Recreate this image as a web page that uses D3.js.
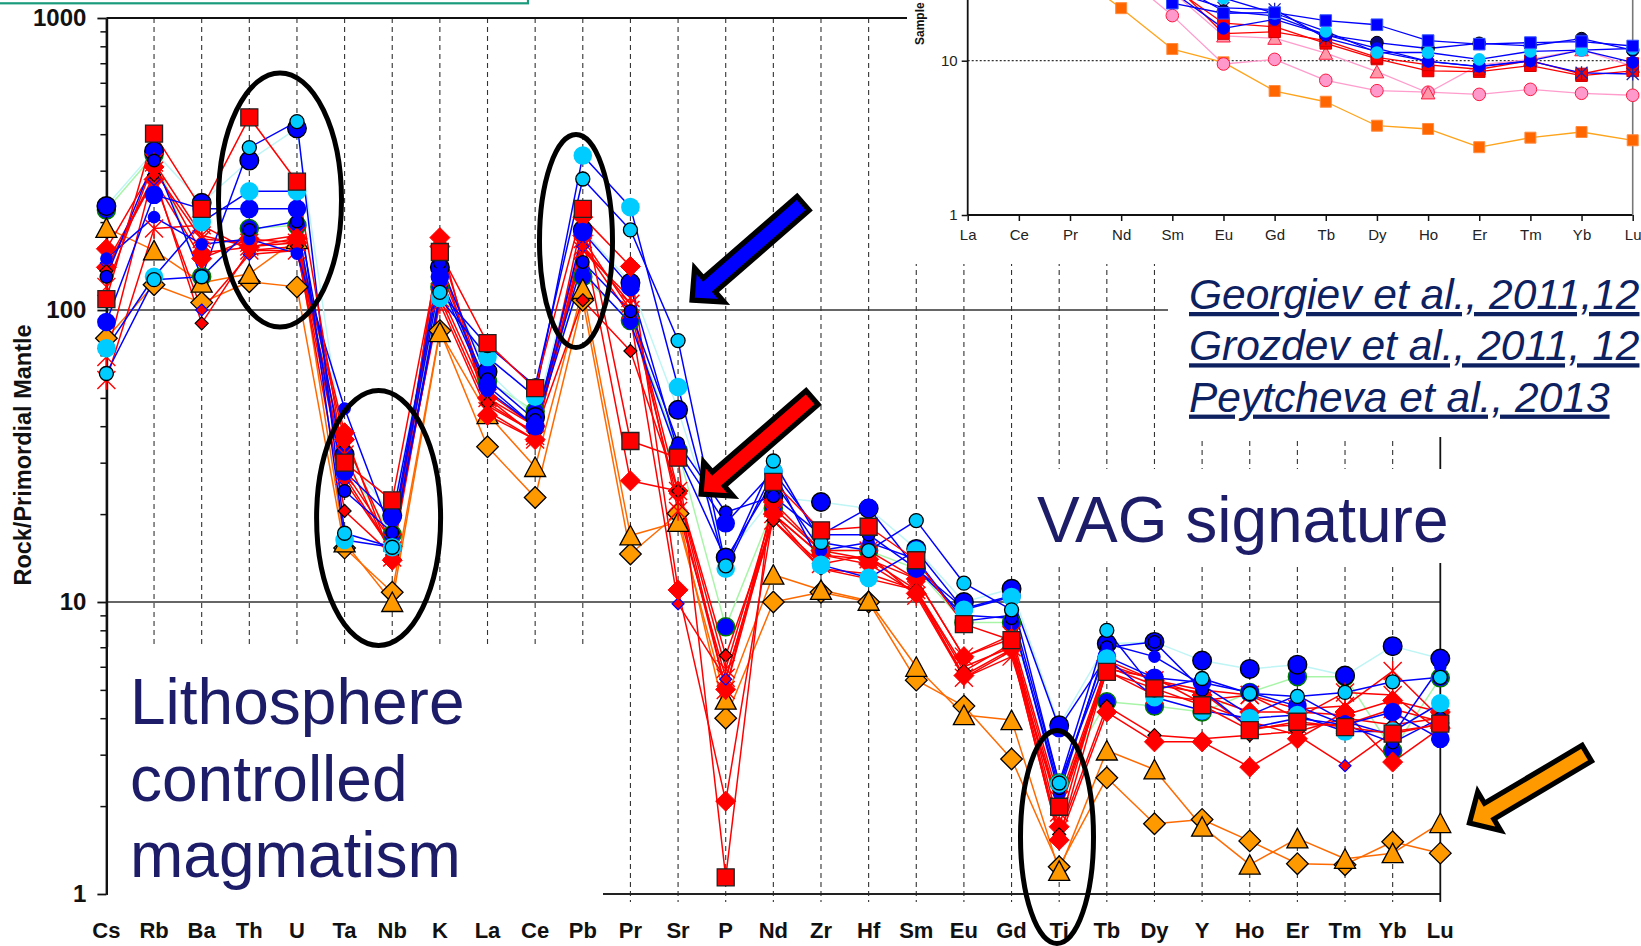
<!DOCTYPE html>
<html>
<head>
<meta charset="utf-8">
<script src="https://cdn.jsdelivr.net/npm/d3@7"></script>
<style>
  html, body { margin: 0; padding: 0; background: #fff; overflow: hidden; }
  svg { display: block; font-family: "Liberation Sans", Arial, sans-serif; }
</style>
</head>
<body>
<svg id="chart" width="1641" height="946"></svg>
<script>
// ---------- Primitive-mantle normalised spider diagram ----------
const elements = ["Cs","Rb","Ba","Th","U","Ta","Nb","K","La","Ce","Pb","Pr","Sr","P","Nd",
                  "Zr","Hf","Sm","Eu","Gd","Ti","Tb","Dy","Y","Ho","Er","Tm","Yb","Lu"];
const mainTicks = [1, 10, 100, 1000];

const orangeDiamond   = [80,122,106,125,120,15.3,10.8,85,34,22.8,108,14.6,20.1,4.0,10.0,10.8,10.0,5.4,4.4,2.9,1.24,2.5,1.74,1.8,1.52,1.27,1.26,1.51,1.38];
const orangeTriangle  = [191,160,124,133,175,16,10,84,44,29,118,16.9,18.8,4.63,12.4,11,10.1,6.0,4.1,3.94,1.2,3.1,2.67,1.7,1.26,1.55,1.32,1.38,1.75];
const redSquare       = [109,402,222,457,275,30,22.3,158,77,54,222,35.6,31.2,1.14,25.8,17.6,18.1,13.9,8.4,7.4,1.99,5.76,5.06,4.43,3.64,3.89,3.73,3.54,3.83];
const redDiamondA     = [162,309,157,164,176,38,13.9,177,43.6,36,208,141,11,2.08,20,14.5,13.5,10.7,5.6,6.9,1.53,4.2,3.32,3.32,2.72,3.4,4.2,2.83,3.7];
const redDiamondB     = [140,280,150,175,170,36,15.5,165,50,40,180,26,24,5.02,22,15,14,12,6.5,7.5,1.7,6.3,5.4,4.8,4.2,4.2,4.1,4.6,4.2];
const redDiamondSmall = [136,290,90,160,165,20.5,14.5,150,48,38,108,72.4,24,6.56,19,13,12.5,11,5.8,7.2,1.6,4.4,3.5,3.4,3.5,3.6,4.0,3.8,4.0];
const redDiamondBlue  = [145,280,100,155,160,26,15,140,52,40,165,95,9.86,5.44,20,13,12,11,5.5,6.8,1.55,5.9,5.5,4.5,3.9,3.5,2.75,3.6,3.8];
const redStarA        = [69,300,175,170,180,27,15,110,47,38,165,105,24,5.9,21,15,15,12,6.5,7.7,2.1,6.1,5.4,5.0,4.8,4.3,4.4,5.8,4.0];
const redStarB        = [120,320,180,165,170,28,16,105,45,36,175,100,22,5.0,20,14.5,14,11,6.0,7.0,1.9,5.8,4.8,4.6,4.8,4.0,4.9,4.8,3.6];
const redStarC        = [57.6,190,195,160,160,32,14.2,115,50,37,160,110,20.5,5.5,19,13.5,14.5,10.5,5.5,6.5,2.0,6.0,5.2,4.9,3.7,3.8,3.8,4.3,3.9];
const blueGreenEdge   = [220,340,130,190,195,30,17,120,57,45,130,92,33,8.22,21,15,15,13,8.5,8.5,2.4,4.55,4.4,4.2,4.9,5.55,5.55,3.1,5.5];
const blueLargeEdged  = [227,350,233,325,419,32,19.8,140,61.5,43,188,124,45.5,14.2,22.9,22,20.9,15.2,10,11.1,3.78,7.2,7.3,6.3,5.9,6.1,5.6,7.06,6.4];
const blueLarge       = [91,248,222,222,222,28,19.5,130,55,40,185,120,32.8,18.6,28,17,21,13,9.5,10.5,3.7,6.5,5.5,5.3,4.9,4.4,3.8,4.2,3.4];
const blueSmallEdged  = [130,325,130,188,201,24,17.3,145,58,42,146,99,35,20.3,23,17,17,13,9,8.8,2.3,7.0,7.3,5.0,3.7,4.0,3.8,3.3,4.0];
const blueSmall       = [150,208,168,175,156,46,17,125,53,40,135,90,32,14,26,15,16,14,8.6,9.0,2.2,7.2,6.5,5.2,4.1,4.8,3.9,3.5,6.0];
const cyanLarge       = [74,130,200,255,255,16.3,15.4,110,69,50.5,338,225,54.5,13,28,13.4,12.1,15,9.4,10.4,2.39,6.4,4.72,4.25,4.0,4.1,3.6,3.6,4.5];
const cyanEdged       = [60.6,127,130,360,442,17.2,15.4,115,75.5,55,281,188,78.6,13.3,30.4,16,15,19,11.6,9.4,2.4,8,5,5.47,4.86,4.75,4.9,5.33,5.52];

// ---------- Chondrite-normalised REE inset ----------
const ree = ["La","Ce","Pr","Nd","Sm","Eu","Gd","Tb","Dy","Ho","Er","Tm","Yb","Lu"];
const insetTicks = [1, 10];
const reeOrangeSquare = [70,55,38,21.9,11.9,9.76,6.36,5.42,3.79,3.61,2.75,3.17,3.45,3.05];
const reePinkCircle   = [90,75,55,37,19.6,9.52,10.2,7.46,6.39,6.25,6.05,6.52,6.15,5.97];
const reePinkTriangle = [110,90,65,45,28,14.5,14,11.2,8.49,6.2,9.4,10.2,11.8,9.2];
const reeRedSquareA   = [120,95,70,50,30,17.5,16.6,12.96,10.26,8.58,8.5,9.28,8.0,8.6];
const reeRedSquareB   = [130,100,75,52,32,15,15.4,13.5,10.5,9.4,8.8,10,8.2,9.6];
const reeBlueSquare   = [110,90,65,45,23.6,20.3,20.5,18.2,17.1,13.5,12.8,13.1,13.3,12.45];
const reeNavyCircle   = [140,110,80,55,32,21,19.5,14.7,13.1,12,12.96,12.5,13.9,11.7];
const reeCyanCircle   = [130,100,75,55,30,25.5,20.3,15.5,11.3,11.3,10.2,11.5,11.7,12];
const reeBlueCircle   = [125,100,72,50,28,16.2,18.5,14.7,12,9.9,9.2,10,11.7,9.76];
const reeBlueStar     = [120,95,70,50,28,22,21.5,14,11.5,9.9,9.14,9.95,8.35,8.2];

// ---------- styling tables ----------
const BLUE = "#0000ff", CYAN = "#00ccff", RED = "#ff0000", ORANGE_LINE = "#ff6a00", ORANGE = "#ff9900";
const mainSeries = [
  { v: blueGreenEdge,   line: "#a8f5a8", shape: "circle",  s: 9,   fill: BLUE,  stroke: "#007a00", sw: 1.5 },
  { v: blueLargeEdged,  line: "#bff5f5", shape: "circle",  s: 9.3, fill: BLUE,  stroke: "#000",    sw: 1.4 },
  { v: orangeDiamond,   line: ORANGE_LINE, shape: "diamond", s: 10.8, fill: ORANGE, stroke: "#000", sw: 1.3 },
  { v: orangeTriangle,  line: ORANGE_LINE, shape: "triangle", s: 10, fill: ORANGE, stroke: "#000", sw: 1.3 },
  { v: redStarC,        line: RED, shape: "star",    s: 9,   fill: "none", stroke: RED, sw: 1.4 },
  { v: redStarB,        line: RED, shape: "star",    s: 9,   fill: "none", stroke: RED, sw: 1.4 },
  { v: redDiamondB,     line: RED, shape: "diamond", s: 10,  fill: RED, stroke: RED, sw: 1 },
  { v: redDiamondBlue,  line: RED, shape: "diamond", s: 6,   fill: RED, stroke: BLUE, sw: 1.2 },
  { v: redDiamondSmall, line: RED, shape: "diamond", s: 6.5, fill: RED, stroke: "#000", sw: 1.2 },
  { v: redDiamondA,     line: RED, shape: "diamond", s: 10,  fill: RED, stroke: RED, sw: 1 },
  { v: redStarA,        line: RED, shape: "star",    s: 9,   fill: "none", stroke: RED, sw: 1.4 },
  { v: blueSmall,       line: BLUE, shape: "circle", s: 6.3, fill: BLUE, stroke: "none", sw: 0 },
  { v: blueSmallEdged,  line: BLUE, shape: "circle", s: 6.3, fill: BLUE, stroke: "#000", sw: 1.3 },
  { v: blueLarge,       line: BLUE, shape: "circle", s: 9.3, fill: BLUE, stroke: "none", sw: 0 },
  { v: cyanLarge,       line: BLUE, shape: "circle", s: 9.3, fill: CYAN, stroke: "none", sw: 0 },
  { v: cyanEdged,       line: BLUE, shape: "circle", s: 7,   fill: CYAN, stroke: "#000", sw: 1.3 },
  { v: redSquare,       line: RED, shape: "square",  s: 8.5, fill: RED, stroke: "#222", sw: 1.3 }
];
const insetSeries = [
  { v: reeOrangeSquare, line: "#ffa31a", shape: "square",   s: 5.5, fill: "#ff6600", stroke: "#ff8c40", sw: 1 },
  { v: reePinkCircle,   line: "#ff9ccc", shape: "circle",   s: 6.3, fill: "#ff99cc", stroke: "#ff1a40", sw: 1 },
  { v: reePinkTriangle, line: "#ff9ccc", shape: "triangle", s: 6.5, fill: "#ff99aa", stroke: "#ff1a40", sw: 1 },
  { v: reeRedSquareA,   line: RED,  shape: "square",  s: 5.8, fill: RED,  stroke: "#d00000", sw: 1 },
  { v: reeRedSquareB,   line: RED,  shape: "square",  s: 5.8, fill: RED,  stroke: "#d00000", sw: 1 },
  { v: reeBlueStar,     line: BLUE, shape: "star",    s: 6,   fill: "none", stroke: "#2222aa", sw: 1.3 },
  { v: reeNavyCircle,   line: BLUE, shape: "circle",  s: 6.3, fill: "#0a0a70", stroke: "#000", sw: 1 },
  { v: reeBlueCircle,   line: BLUE, shape: "circle",  s: 6.3, fill: BLUE, stroke: "none", sw: 0 },
  { v: reeCyanCircle,   line: BLUE, shape: "circle",  s: 6.3, fill: CYAN, stroke: "none", sw: 0 },
  { v: reeBlueSquare,   line: BLUE, shape: "square",  s: 5.8, fill: BLUE, stroke: "#3355ff", sw: 1 }
];

// ---------- scales ----------
const svg = d3.select("#chart");
const x = d3.scalePoint().domain(elements).range([106.4, 1440.3]);
const y = d3.scaleLog().domain([1, 1000]).range([894, 18]);
const xi = d3.scalePoint().domain(ree).range([967.7, 1632.7]);
const yi = d3.scaleLog().domain([1, 100]).range([215, 215 - 2 * 154.3]);

function markerPath(shape, s) {
  switch (shape) {
    case "diamond":  return `M0,${-s}L${s},0L0,${s}L${-s},0Z`;
    case "square":   return `M${-s},${-s}H${s}V${s}H${-s}Z`;
    case "triangle": return `M0,${-s}L${s * 1.05},${s * 0.95}L${-s * 1.05},${s * 0.95}Z`;
    case "star":     return `M${-s},${-s}L${s},${s}M${-s},${s}L${s},${-s}M0,${-s * 1.1}V${s * 1.1}`;
    default:         return `M${s},0A${s},${s} 0 1,1 ${-s},0A${s},${s} 0 1,1 ${s},0Z`;
  }
}

function drawSeries(layer, list, cats, xs, ys, lw) {
  const line = d3.line().x((d, i) => xs(cats[i])).y(d => ys(d));
  layer.append("g").selectAll("path").data(list).join("path")
    .attr("d", d => line(d.v)).attr("fill", "none")
    .attr("stroke", d => d.line).attr("stroke-width", lw).attr("stroke-linejoin", "round");
  list.forEach(sr => {
    layer.append("g").selectAll("path").data(sr.v).join("path")
      .attr("transform", (d, i) => `translate(${xs(cats[i])},${ys(d)})`)
      .attr("d", markerPath(sr.shape, sr.s))
      .attr("fill", sr.fill).attr("stroke", sr.stroke).attr("stroke-width", sr.sw);
  });
}

// ---------- main frame and grid ----------
const grid = svg.append("g");
grid.selectAll("line.cat").data(elements.slice(1, -1)).join("line")
  .attr("x1", d => x(d)).attr("x2", d => x(d))
  .attr("y1", y(1000)).attr("y2", 902)
  .attr("stroke", "#333").attr("stroke-width", 1.1).attr("stroke-dasharray", "5,4");
grid.append("line").attr("x1", x("Cs")).attr("x2", 1168).attr("y1", y(100)).attr("y2", y(100))
  .attr("stroke", "#333").attr("stroke-width", 1.3);
grid.append("line").attr("x1", x("Cs")).attr("x2", x("Lu")).attr("y1", y(10)).attr("y2", y(10))
  .attr("stroke", "#333").attr("stroke-width", 1.3);
grid.append("line").attr("x1", x("Cs")).attr("x2", x("Lu")).attr("y1", y(1)).attr("y2", y(1))
  .attr("stroke", "#222").attr("stroke-width", 2);
grid.append("line").attr("x1", x("Cs")).attr("x2", 907).attr("y1", y(1000)).attr("y2", y(1000))
  .attr("stroke", "#111").attr("stroke-width", 2.2);
grid.append("line").attr("x1", x("Lu")).attr("x2", x("Lu")).attr("y1", 437).attr("y2", 902)
  .attr("stroke", "#111").attr("stroke-width", 1.8);

// y axis: minor ticks, then labelled decades
const minor = [];
[1, 10, 100].forEach(d => { for (let k = 2; k <= 9; k++) minor.push(d * k); });
svg.append("g").attr("transform", `translate(${x("Cs")},0)`)
  .call(d3.axisLeft(y).tickValues(minor).tickSize(6).tickFormat(""))
  .call(g => g.select(".domain").remove())
  .call(g => g.selectAll("line").attr("stroke", "#111").attr("stroke-width", 1.5));
svg.append("g").attr("transform", `translate(${x("Cs")},0)`)
  .call(d3.axisLeft(y).tickValues(mainTicks).tickSize(9).tickSizeOuter(0).tickPadding(11).tickFormat(d3.format("d")))
  .call(g => g.select(".domain").attr("stroke", "#111").attr("stroke-width", 2.6))
  .call(g => g.selectAll("line").attr("stroke", "#111").attr("stroke-width", 1.8))
  .call(g => g.selectAll("text").attr("font-size", 24).attr("font-weight", "bold")
    .attr("fill", "#111").attr("font-family", "'Liberation Sans', Arial, sans-serif"));

// element labels
svg.append("g").selectAll("text").data(elements).join("text")
  .attr("x", d => x(d)).attr("y", 938).attr("text-anchor", "middle")
  .attr("font-size", 22).attr("font-weight", "bold").attr("fill", "#111").text(d => d);

svg.append("text").attr("transform", "translate(31,455) rotate(-90)")
  .attr("text-anchor", "middle").attr("font-size", 23.5).attr("font-weight", "bold")
  .attr("fill", "#111").text("Rock/Primordial Mantle");

// panels laid over the plot
const panels = svg.append("g").attr("fill", "#fff");
panels.append("rect").attr("x", 907).attr("y", 0).attr("width", 734).attr("height", 264);
panels.append("rect").attr("x", 1168).attr("y", 264).attr("width", 473).attr("height", 173);
panels.append("rect").attr("x", 1035).attr("y", 469).attr("width", 420).attr("height", 94);
panels.append("rect").attr("x", 108).attr("y", 647).attr("width", 495).attr("height", 258);

// ---------- inset REE plot ----------
const inset = svg.append("g");
inset.append("line").attr("x1", xi("La")).attr("x2", xi("Lu")).attr("y1", yi(10)).attr("y2", yi(10))
  .attr("stroke", "#333").attr("stroke-width", 1.2).attr("stroke-dasharray", "2,2");
inset.append("g").attr("transform", `translate(${xi("La")},0)`)
  .call(d3.axisLeft(yi).tickValues(insetTicks).tickSize(6).tickSizeOuter(0).tickPadding(4).tickFormat(d3.format("d")))
  .call(g => g.select(".domain").attr("d", `M0,0V${yi(1)}`).attr("stroke", "#111").attr("stroke-width", 1.8))
  .call(g => g.selectAll("line").attr("stroke", "#111").attr("stroke-width", 1.5))
  .call(g => g.selectAll("text").attr("font-size", 15).attr("fill", "#222")
    .attr("font-family", "'Liberation Sans', Arial, sans-serif"));
inset.append("g").attr("transform", `translate(0,${yi(1)})`)
  .call(d3.axisBottom(xi).tickSize(6).tickSizeOuter(0).tickPadding(8))
  .call(g => g.select(".domain").attr("d", `M${xi("La")},0H${xi("Lu")}`).attr("stroke", "#111").attr("stroke-width", 1.8))
  .call(g => g.selectAll("line").attr("stroke", "#111").attr("stroke-width", 1.5))
  .call(g => g.selectAll("text").attr("font-size", 15).attr("fill", "#222")
    .attr("font-family", "'Liberation Sans', Arial, sans-serif"));
inset.append("line").attr("x1", xi("Lu")).attr("x2", xi("Lu")).attr("y1", 0).attr("y2", yi(1))
  .attr("stroke", "#777").attr("stroke-width", 1.6);
inset.append("text").attr("transform", "translate(924,45) rotate(-90)")
  .attr("font-size", 12).attr("font-weight", "bold").attr("fill", "#111").text("Sample");
drawSeries(inset, insetSeries, ree, xi, yi, 1.3);

// ---------- main data ----------
drawSeries(svg.append("g"), mainSeries, elements, x, y, 1.5);

// ---------- annotations ----------
svg.append("rect").attr("x", -10).attr("y", -30).attr("width", 538).attr("height", 33.3)
  .attr("fill", "none").attr("stroke", "#1a9c7c").attr("stroke-width", 2.2);

const rings = [
  { cx: 280, cy: 200, rx: 61.5, ry: 127 },
  { cx: 378.6, cy: 518, rx: 62, ry: 127.5 },
  { cx: 576, cy: 241, rx: 36.5, ry: 106.5 },
  { cx: 1057, cy: 837, rx: 36.5, ry: 106.5 }
];
svg.append("g").selectAll("ellipse").data(rings).join("ellipse")
  .attr("cx", d => d.cx).attr("cy", d => d.cy).attr("rx", d => d.rx).attr("ry", d => d.ry)
  .attr("fill", "none").attr("stroke", "#000").attr("stroke-width", 5);

function blockArrow(tip, tail, w, hw, hl) {
  const dx = tail[0] - tip[0], dy = tail[1] - tip[1];
  const L = Math.hypot(dx, dy), ux = dx / L, uy = dy / L, nx = -uy, ny = ux;
  const P = (a, b) => [tip[0] + ux * a + nx * b, tip[1] + uy * a + ny * b];
  return [P(4, 0), P(4 + hl, hw), P(4 + hl, w), P(L - 2.5, w), P(L - 2.5, -w), P(4 + hl, -w), P(4 + hl, -hw)];
}
const arrows = [
  { tip: [689, 302.7], tail: [805, 201.7], fill: "#0000ff" },
  { tip: [698, 496.7], tail: [814, 396], fill: "#ff0000" },
  { tip: [1466, 825], tail: [1589, 752], fill: "#ff9900" }
];
svg.append("g").selectAll("polygon").data(arrows).join("polygon")
  .attr("points", d => blockArrow(d.tip, d.tail, 9.2, 22.5, 23).map(p => p.join(",")).join(" "))
  .attr("fill", d => d.fill).attr("stroke", "#000").attr("stroke-width", 5.2)
  .attr("stroke-linejoin", "miter").attr("stroke-miterlimit", 10);

const NAVY = "#1c1c68";
const litho = svg.append("text").attr("font-size", 64).attr("fill", NAVY);
["Lithosphere", "controlled", "magmatism"].forEach((t, i) =>
  litho.append("tspan").attr("x", 130).attr("y", 724 + i * 76.5).text(t));
svg.append("text").attr("x", 1037).attr("y", 542).attr("font-size", 64).attr("fill", NAVY)
  .text("VAG signature");

const refs = ["Georgiev et al., 2011,12", "Grozdev et al., 2011, 12", "Peytcheva et al., 2013"];
svg.append("g").selectAll("text").data(refs).join("text")
  .attr("x", 1189).attr("y", (d, i) => 309 + i * 51.3)
  .attr("font-size", 42.5).attr("font-style", "italic").attr("fill", "#0d2060")
  .attr("text-decoration", "underline").text(d => d);
</script>
</body>
</html>
